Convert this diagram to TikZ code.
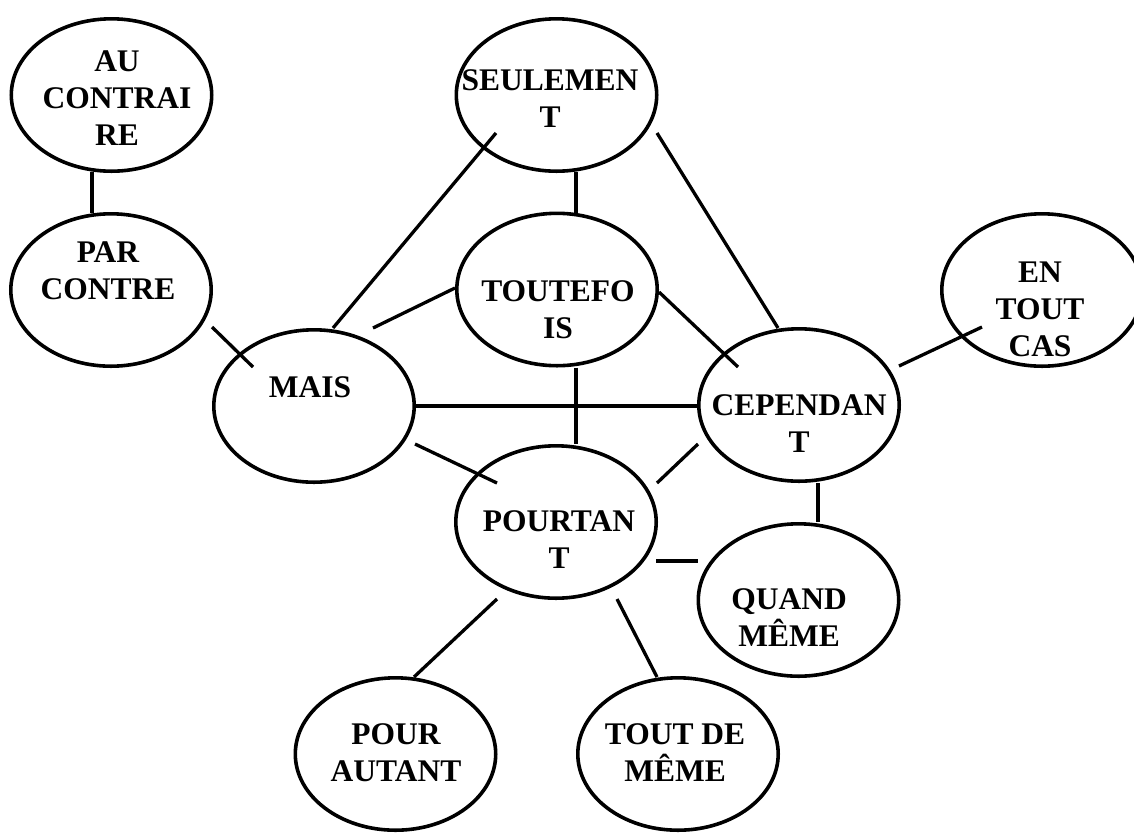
\documentclass[tikz,border=0pt]{standalone}
\usepackage{fontspec}
\setmainfont{Liberation Serif}
\usetikzlibrary{shapes.geometric,calc}
\tikzset{
  oval/.style={ellipse, draw, line width=1.8pt, minimum width=100.2pt, minimum height=76.2pt, inner sep=0pt},
  lbl/.style={font=\bfseries\fontsize{15.75}{18.5}\selectfont, align=center, inner sep=0pt, outer sep=0pt, anchor=north, yshift=9.7pt},
  link/.style={line width=1.65pt}
}
\begin{document}
\begin{tikzpicture}[x=0.5pt,y=-0.5pt]
\clip (0,0) rectangle (1134,832);
\fill[white] (0,0) rectangle (1134,832);
% ellipses
\node[oval] (auc) at (111.5,95) {};
\node[oval] (par) at (111,290) {};
\node[oval] (seu) at (556.5,95) {};
\node[oval] (tou) at (557,289.5) {};
\node[oval] (ent) at (1042,290) {};
\node[oval] (mais) at (314,406) {};
\node[oval] (cep) at (799,405) {};
\node[oval] (pou) at (556,522) {};
\node[oval] (qm) at (798.5,600) {};
\node[oval] (pa) at (395.5,754) {};
\node[oval] (tdm) at (678,754) {};
% labels
\node[lbl] (auc-t) at (117,61) {\rule{0pt}{15pt}AU\\CONTRAI\\RE};
\node[lbl] (par-t) at (108,252) {\rule{0pt}{15pt}PAR\\CONTRE};
\node[lbl] (seu-t) at (550,79.5) {\rule{0pt}{15pt}SEULEMEN\\T};
\node[lbl] (tou-t) at (558,291) {\rule{0pt}{15pt}TOUTEFO\\IS};
\node[lbl] (mais-t) at (310,387) {\rule{0pt}{15pt}MAIS};
\node[lbl] (cep-t) at (799,405) {\rule{0pt}{15pt}CEPENDAN\\T};
\node[lbl] (ent-t) at (1040,272) {\rule{0pt}{15pt}EN\\TOUT\\CAS};
\node[lbl] (pou-t) at (559,521) {\rule{0pt}{15pt}POURTAN\\T};
\node[lbl] (qm-t) at (789,599) {\rule{0pt}{15pt}QUAND\\MÊME};
\node[lbl] (pa-t) at (396,734) {\rule{0pt}{15pt}POUR\\AUTANT};
\node[lbl] (tdm-t) at (675,734) {\rule{0pt}{15pt}TOUT DE\\MÊME};
% connectors
\draw[link] ($(auc.center)+(-19.5,77)$) -- ($(par.center)+(-19,-77)$);
\draw[link] ($(seu.center)+(19.5,77)$) -- ($(tou.center)+(19,-77)$);
\draw[link] ($(par.center)+(101,37)$) -- ($(mais.center)+(-61,-39)$);
\draw[link] ($(seu.center)+(-60.5,38)$) -- ($(mais.center)+(19,-78)$);
\draw[link] ($(tou.center)+(-102,-1.5)$) -- ($(mais.center)+(59,-78)$);
\draw[link] ($(mais.center)+(101,0)$) -- ($(cep.center)+(-102,1)$);
\draw[link] ($(mais.center)+(101,38)$) -- ($(pou.center)+(-59,-39)$);
\draw[link] ($(seu.center)+(100.5,38)$) -- ($(cep.center)+(-21,-77)$);
\draw[link] ($(tou.center)+(102,2.5)$) -- ($(cep.center)+(-61,-38)$);
\draw[link] ($(tou.center)+(19,78)$) -- ($(pou.center)+(20,-78)$);
\draw[link] ($(cep.center)+(100,-39)$) -- ($(ent.center)+(-60,37)$);
\draw[link] ($(cep.center)+(-101,39)$) -- ($(pou.center)+(101,-39)$);
\draw[link] ($(cep.center)+(19,78)$) -- ($(qm.center)+(19.5,-78)$);
\draw[link] ($(pou.center)+(100,39)$) -- ($(qm.center)+(-100.5,-39)$);
\draw[link] ($(pou.center)+(-59,77)$) -- ($(pa.center)+(18.5,-77)$);
\draw[link] ($(pou.center)+(61,77)$) -- ($(tdm.center)+(-21,-77)$);
\end{tikzpicture}
\end{document}
